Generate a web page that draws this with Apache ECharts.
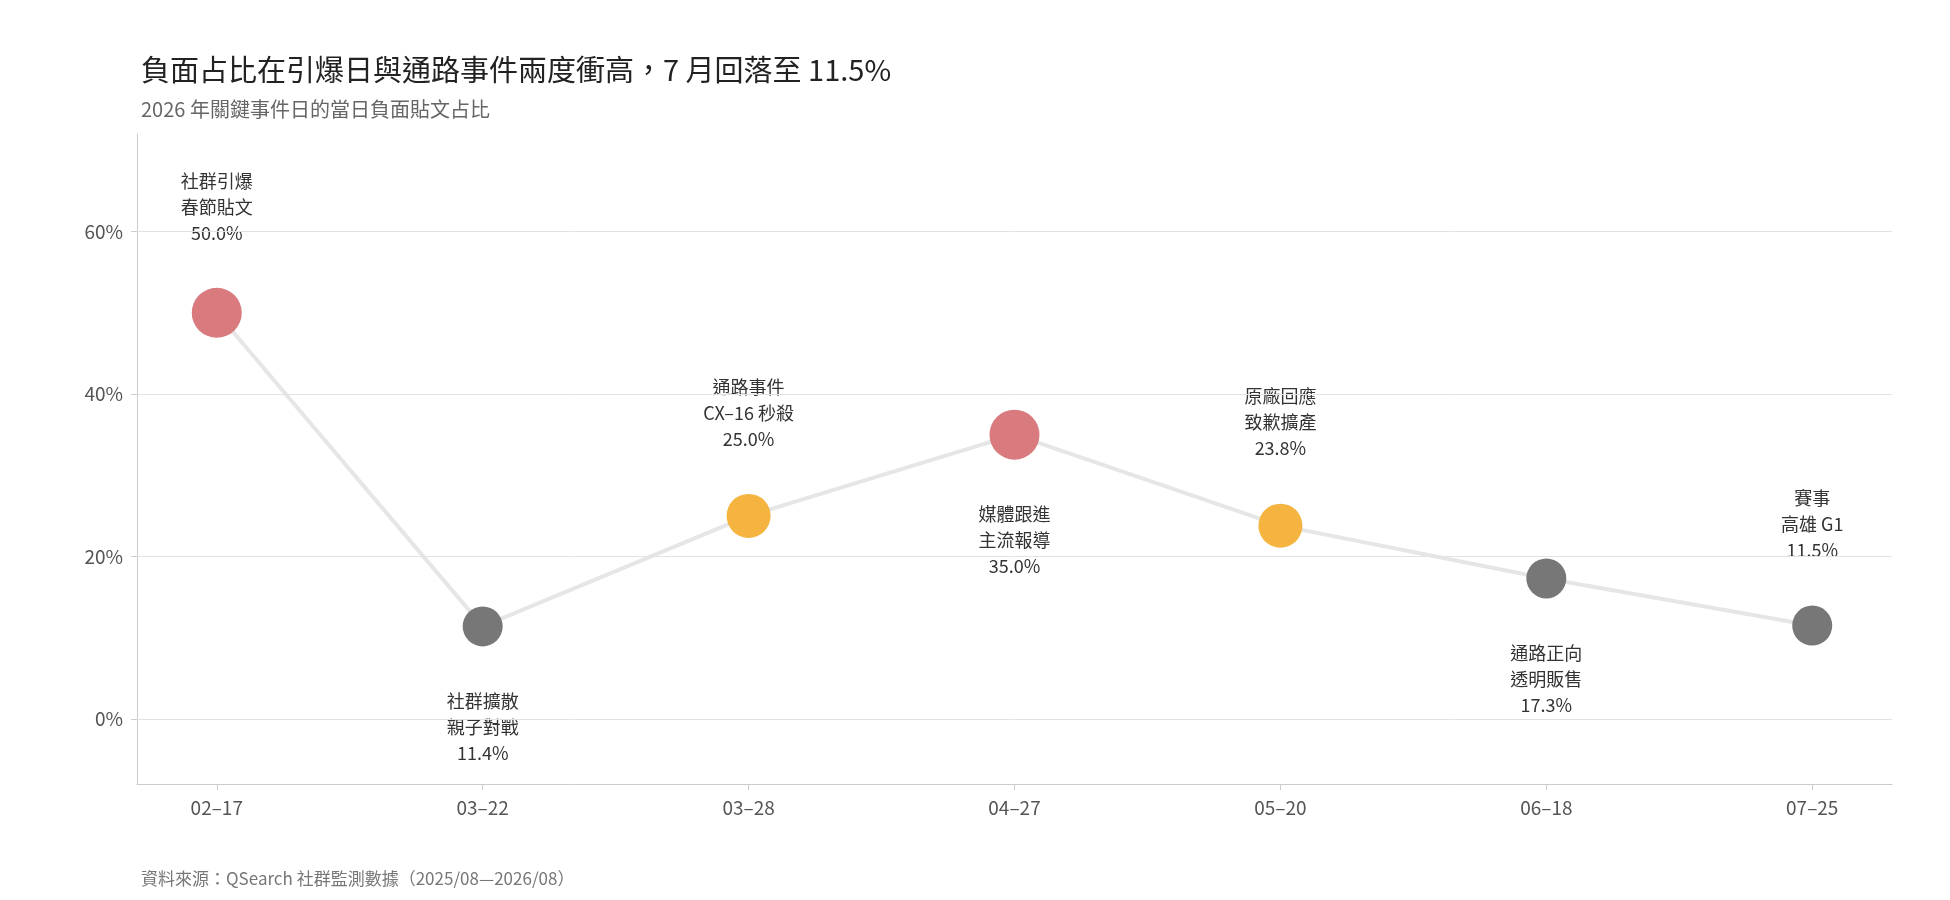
<!DOCTYPE html>
<html><head><meta charset="utf-8">
<script src="https://cdn.jsdelivr.net/npm/echarts@6/dist/echarts.min.js"></script>
<style>html,body{margin:0;background:#fff}#c{width:1950px;height:900px}</style>
</head><body><div id="c"></div>
<script>
const categories = ['02–17','03–22','03–28','04–27','05–20','06–18','07–25'];
const values = [50.0, 11.4, 25.0, 35.0, 23.8, 17.3, 11.5];
const notes = ['社群引爆\n春節貼文','社群擴散\n親子對戰','通路事件\nCX–16 秒殺','媒體跟進\n主流報導','原廠回應\n致歉擴產','通路正向\n透明販售','賽事\n高雄 G1'];
const kinds = ['red','grey','orange','red','orange','grey','grey'];
const labelPos = ['top','bottom','top','bottom','top','bottom','top'];
const yTicks = [0,20,40,60];

const colors = {red:'#d97b7e', orange:'#f4b43f', grey:'#777777'};
const sizes = {red:50, orange:44, grey:40};
const font = '"Noto Sans CJK TC","Noto Sans",sans-serif';

const data = values.map((v,i)=>({
  value:[i,v],
  symbolSize:sizes[kinds[i]],
  itemStyle:{color:colors[kinds[i]]},
  label:{show:true,position:labelPos[i],distance:42,
    formatter:notes[i]+'\n'+v.toFixed(1)+'%',
    color:'#333',fontSize:18,lineHeight:26,fontFamily:font,align:'center'}
}));

const chart = echarts.init(document.getElementById('c'));
chart.setOption({
  backgroundColor:'#fff',
  animation:false,
  title:[
    {text:'負面占比在引爆日與通路事件兩度衝高，7 月回落至 11.5%',left:136,top:50,
     textStyle:{fontSize:29,fontWeight:'normal',color:'#222',fontFamily:font}},
    {text:'2026 年關鍵事件日的當日負面貼文占比',left:136,top:94,
     textStyle:{fontSize:20,fontWeight:'normal',color:'#666',fontFamily:font}},
    {text:'資料來源：QSearch 社群監測數據（2025/08—2026/08）',left:136,top:865,
     textStyle:{fontSize:17,fontWeight:'normal',color:'#777',fontFamily:font}}
  ],
  grid:{left:137,right:58,top:134,bottom:116},
  xAxis:{type:'value',min:-0.3,max:6.3,
    axisLine:{show:true,onZero:false,lineStyle:{color:'#ccc'}},
    axisTick:{show:true,customValues:[0,1,2,3,4,5,6],length:6,lineStyle:{color:'#ccc'}},
    axisLabel:{customValues:[0,1,2,3,4,5,6],formatter:v=>categories[Math.round(v)],
      color:'#555',fontSize:19,fontFamily:font,margin:14},
    splitLine:{show:false}},
  yAxis:{type:'value',min:-8,max:72,
    axisLine:{show:true,onZero:false,lineStyle:{color:'#ccc'}},
    axisTick:{show:true,customValues:yTicks,length:6,lineStyle:{color:'#ccc'}},
    axisLabel:{customValues:yTicks,formatter:v=>v+'%',color:'#555',fontSize:19,fontFamily:font,margin:14},
    splitLine:{show:false}},
  series:[{
    type:'line',data:data,symbol:'circle',
    lineStyle:{color:'#e6e6e6',width:4},
    z:3,
    markLine:{silent:true,symbol:'none',label:{show:false},
      lineStyle:{color:'#e3e3e3',width:1,type:'solid'},
      data:yTicks.map(t=>({yAxis:t}))}
  }]
});
</script></body></html>
